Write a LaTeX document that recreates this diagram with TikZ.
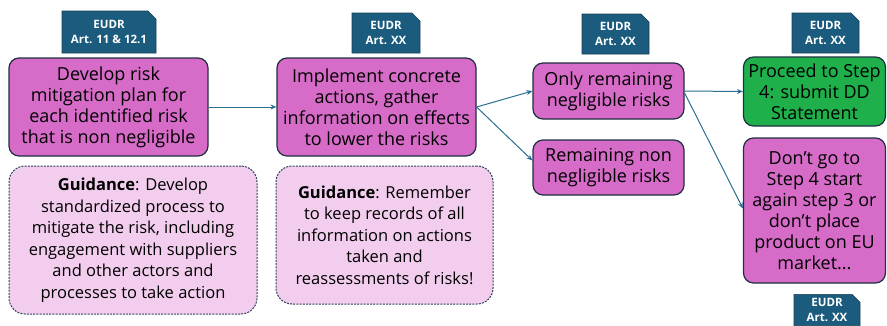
\documentclass[tikz,border=0pt]{standalone}
\usepackage{fontspec}
\setmainfont{Open Sans}
\usetikzlibrary{shapes.misc,arrows.meta}
\definecolor{boxfill}{HTML}{D66BC8}
\definecolor{boxline}{HTML}{1E2F40}
\definecolor{guidefill}{HTML}{F2CDEE}
\definecolor{guideline}{HTML}{2A3F55}
\definecolor{badgefill}{HTML}{1B5C7E}
\definecolor{badgeline}{HTML}{163F55}
\definecolor{arrowcol}{HTML}{2A6E90}
\definecolor{greenfill}{HTML}{1FB04C}
\begin{document}
\begin{tikzpicture}[x=1pt,y=-1pt,
  mainbox/.style={draw=boxline, line width=1.2pt, fill=boxfill, rounded corners=10pt,
    align=center, font=\fontsize{18}{21}\selectfont, inner sep=0pt},
  greenbox/.style={mainbox, fill=greenfill},
  guidebox/.style={draw=guideline, line width=1pt, dashed, dash pattern=on 2pt off 1.2pt,
    fill=guidefill, rounded corners=16pt, align=center,
    font=\fontsize{16.5}{21.5}\selectfont, inner sep=0pt},
  badge/.style={chamfered rectangle, chamfered rectangle corners=north east,
    chamfered rectangle xsep=4pt, chamfered rectangle ysep=4pt,
    draw=badgeline, line width=0.6pt, fill=badgefill, text=white,
    align=center, font=\fontsize{11.5}{15}\selectfont\bfseries, inner sep=0pt},
  conn/.style={draw=arrowcol, line width=1pt, -{Stealth[length=6pt,width=5pt]}}
]
\useasboundingbox (0,0) rectangle (887,325);

% badges
\node[badge, minimum width=94pt, minimum height=42pt] (b1) at (109,32) {EUDR\\Art. 11 \& 12.1};
\node[badge, minimum width=68pt, minimum height=40pt] (b2) at (386,33) {EUDR\\Art. XX};
\node[badge, minimum width=67pt, minimum height=40pt] (b3) at (615.5,34) {EUDR\\Art. XX};
\node[badge, minimum width=67pt, minimum height=40pt] (b4) at (825.5,33) {EUDR\\Art. XX};
\node[badge, minimum width=66pt, minimum height=30pt] (b5) at (827,310) {EUDR\\Art. XX};

% main boxes
\node[mainbox, minimum width=199pt, minimum height=98pt] (A) at (108.5,107)
  {Develop risk\\mitigation plan for\\each identified risk\\that is non negligible};
\node[mainbox, minimum width=199pt, minimum height=98pt] (B) at (376.5,107)
  {Implement concrete\\actions, gather\\information on effects\\to lower the risks};
\node[mainbox, minimum width=151pt, minimum height=56pt] (C) at (608.5,91)
  {Only remaining\\negligible risks};
\node[mainbox, minimum width=151pt, minimum height=55pt] (D) at (608.5,167.5)
  {Remaining non\\negligible risks};
\node[greenbox, minimum width=142pt, minimum height=69pt] (E) at (814.5,91.5)
  {Proceed to Step\\4: submit DD\\Statement};
\node[mainbox, minimum width=142pt, minimum height=145pt] (F) at (814.5,210.5)
  {Don’t go to\\Step 4 start\\again step 3 or\\don’t place\\product on EU\\market...};

% guidance boxes
\node[guidebox, minimum width=248pt, minimum height=148pt] (G1) at (133,240)
  {\textbf{Guidance}: Develop\\standardized process to\\mitigate the risk, including\\engagement with suppliers\\and other actors and\\processes to take action};
\node[guidebox, minimum width=217pt, minimum height=138pt] (G2) at (384.5,235)
  {\textbf{Guidance}: Remember\\to keep records of all\\information on actions\\taken and\\reassessments of risks!};

% connectors
\draw[conn] (A.east) -- (B.west);
\draw[conn] (B.east) -- (C.west);
\draw[conn] (B.east) -- ([yshift=7pt]D.west);
\draw[conn] (C.east) -- (E.west);
\draw[conn] ([yshift=-2pt]C.east) -- ([yshift=2pt]F.west);
\end{tikzpicture}
\end{document}
